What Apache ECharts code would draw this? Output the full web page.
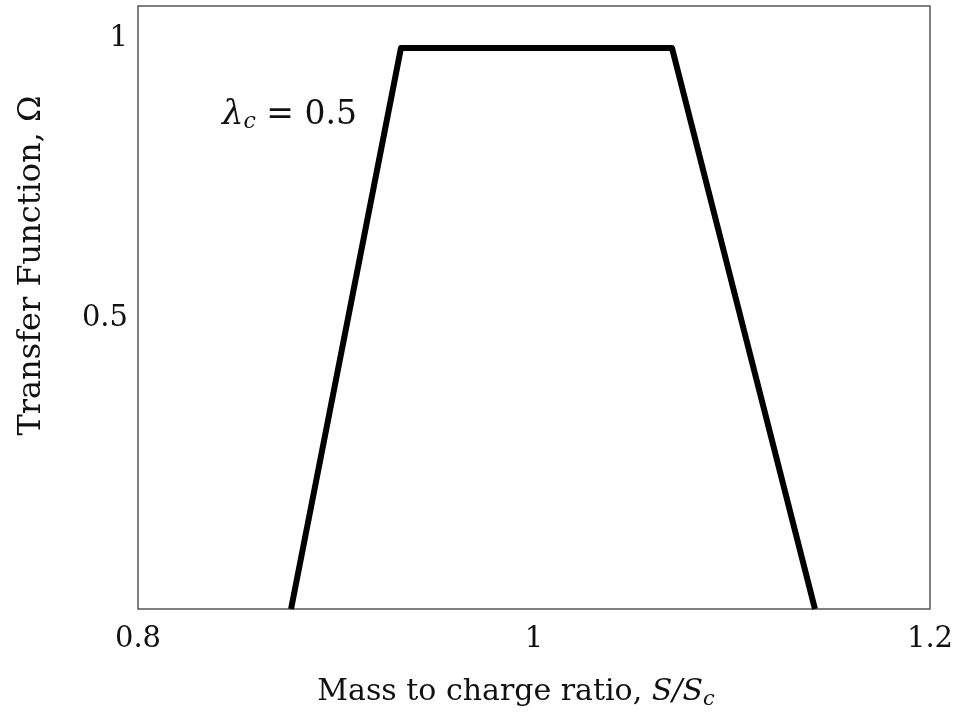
<!DOCTYPE html>
<html>
<head>
<meta charset="utf-8">
<script src="https://cdn.jsdelivr.net/npm/echarts@6/dist/echarts.min.js"></script>
<style>
  html, body { margin: 0; padding: 0; background: #fff; }
  #chart { width: 971px; height: 717px; }
</style>
</head>
<body>
<div id="chart"></div>
<script>
// Trapezoidal transfer function corners (S/Sc, Omega)
const massRatio = [0.8773, 0.9328, 1.0697, 1.1419];
const transfer = [0, 1, 1, 0];
const xTicks = [0.8, 1.0, 1.2];
const yTicks = [0.5, 1.0];
const lambdaLabel = '0.5';

const serif = '"DejaVu Serif", "Liberation Serif", serif';
const ink = '#111';
const chart = echarts.init(document.getElementById('chart'));

function tickText(list) {
  return v => {
    const hit = list.find(t => Math.abs(t - v) < 1e-9);
    return hit === undefined ? '' : String(hit);
  };
}

chart.setOption({
  animation: false,
  backgroundColor: '#fff',
  grid: {
    left: 138, right: 41, top: 6, bottom: 108,
    show: true, borderColor: '#555', borderWidth: 1.5
  },
  xAxis: {
    type: 'value',
    min: 0.8, max: 1.2, interval: 0.2,
    axisLine: { show: false },
    axisTick: { show: false },
    splitLine: { show: false },
    axisLabel: {
      margin: 16, fontFamily: serif, fontSize: 29, color: ink,
      formatter: tickText(xTicks)
    },
    name: '{t|Mass to charge ratio, }{i|S/S}{s|c}',
    nameLocation: 'middle',
    nameGap: 66,
    nameTextStyle: {
      padding: [0, 36, 0, 0],
      rich: {
        t: { fontFamily: serif, fontSize: 30, color: ink },
        i: { fontFamily: serif, fontSize: 30, fontStyle: 'italic', color: ink },
        s: { fontFamily: serif, fontSize: 21, fontStyle: 'italic', color: ink, padding: [14, 0, 0, 0] }
      }
    }
  },
  yAxis: {
    type: 'value',
    min: 0, max: 1.075, interval: 0.5,
    axisLine: { show: false },
    axisTick: { show: false },
    splitLine: { show: false },
    axisLabel: {
      margin: 10, fontFamily: serif, fontSize: 29, color: ink,
      verticalAlign: 'bottom', lineHeight: 20,
      formatter: tickText(yTicks)
    },
    name: 'Transfer Function, Ω',
    nameLocation: 'middle',
    nameGap: 90,
    nameTextStyle: { fontFamily: serif, fontSize: 32, color: ink, padding: [0, 0, 0, 84] }
  },
  series: [{
    type: 'line',
    data: massRatio.map((x, i) => [x, transfer[i]]),
    symbol: 'none',
    lineStyle: { color: '#000', width: 6, join: 'round' },
    clip: false
  }],
  graphic: [{
    type: 'text',
    left: 222, top: 98,
    style: {
      text: '{l|λ}{s|c}{t| = ' + lambdaLabel + '}',
      rich: {
        l: { fontFamily: serif, fontSize: 34, fontStyle: 'italic', fill: ink },
        s: { fontFamily: serif, fontSize: 22, fontStyle: 'italic', fill: ink, padding: [14, 0, 0, 0] },
        t: { fontFamily: serif, fontSize: 33, fill: ink }
      }
    }
  }]
});
</script>
</body>
</html>
